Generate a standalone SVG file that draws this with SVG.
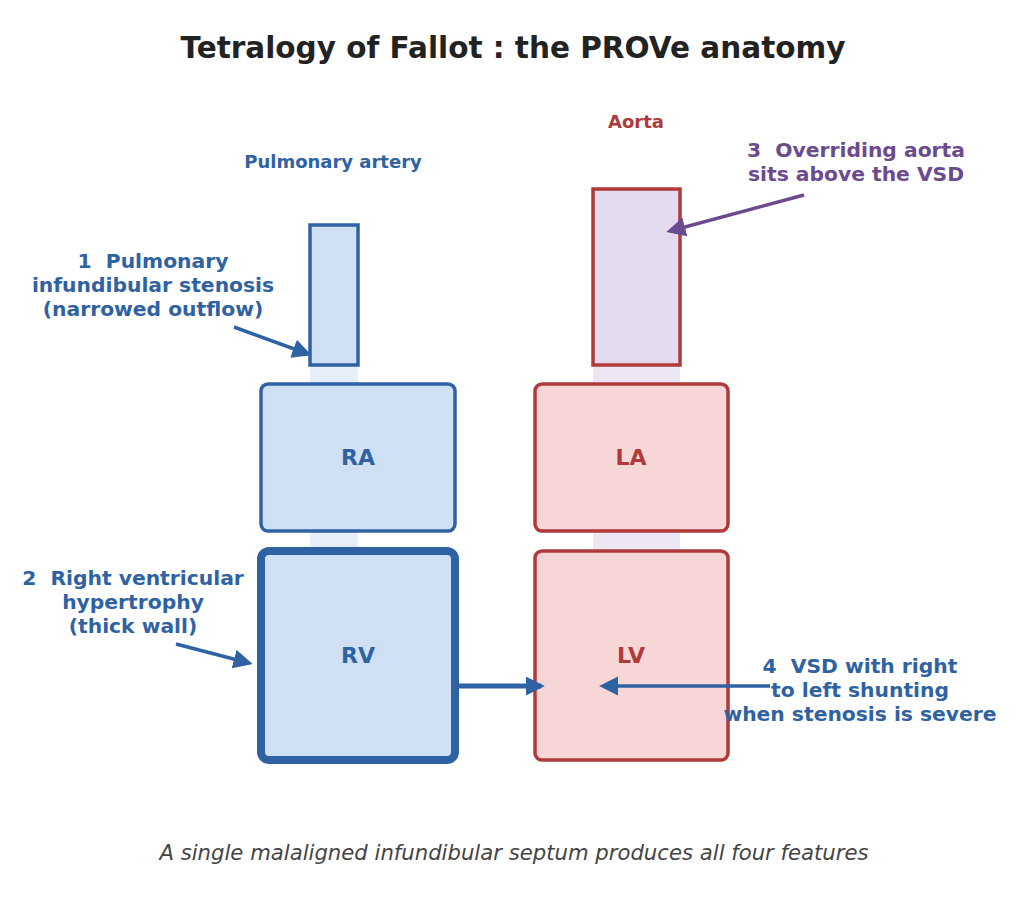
<svg xmlns="http://www.w3.org/2000/svg" width="1024" height="924" viewBox="0 0 1024 924">
<defs>
<style>
text{font-family:"DejaVu Sans","Liberation Sans",sans-serif;font-weight:bold;text-anchor:middle;white-space:pre}
.blue{fill:#2f62a3}
.red{fill:#b03a3a}
.purple{fill:#6b4a8f}
.ann{font-size:20.3px}
.lbl{font-size:22px}
.bnode{fill:#cfe0f4;stroke:#2f62a3;stroke-width:3.5}
.rnode{fill:#f6d6d6;stroke:#b03a3a;stroke-width:3.5}
</style>
<marker id="ab" viewBox="0 0 10 10" refX="8" refY="5" markerWidth="5.5" markerHeight="5.5" orient="auto" markerUnits="strokeWidth"><path d="M0,0 L10,5 L0,10 Z" fill="#2f62a3"/></marker>
<marker id="ab2" viewBox="0 0 10 10" refX="8" refY="5" markerWidth="3.8" markerHeight="3.8" orient="auto" markerUnits="strokeWidth"><path d="M0,0 L10,5 L0,10 Z" fill="#2f62a3"/></marker>
<marker id="ap" viewBox="0 0 10 10" refX="8" refY="5" markerWidth="5.5" markerHeight="5.5" orient="auto" markerUnits="strokeWidth"><path d="M0,0 L10,5 L0,10 Z" fill="#6b4a8f"/></marker>
</defs>
<rect width="1024" height="924" fill="#ffffff"/>
<text x="513" y="58" style="font-size:29.5px" fill="#222222">Tetralogy of Fallot : the PROVe anatomy</text>
<g id="columns">
<rect x="310" y="365" width="48" height="187" fill="#e6eef9"/>
<rect x="593" y="365" width="87" height="187" fill="#ede6f5"/>
</g>
<g id="pulmonary-artery">
<rect x="310" y="225" width="48" height="140" class="bnode"/>
<text x="333" y="168" style="font-size:18px" class="blue">Pulmonary artery</text>
</g>
<g id="aorta">
<rect x="593" y="189" width="87" height="176" fill="#e4daf0" stroke="#b03a3a" stroke-width="3.5"/>
<text x="636" y="128" style="font-size:18px" class="red">Aorta</text>
</g>
<g id="RA">
<rect x="261" y="384" width="194" height="147" rx="7" class="bnode"/>
<text x="358" y="465" class="lbl blue">RA</text>
</g>
<g id="LA">
<rect x="535" y="384" width="193" height="147" rx="7" class="rnode"/>
<text x="631" y="465" class="lbl red">LA</text>
</g>
<g id="RV">
<rect x="261" y="551" width="194" height="209" rx="8" class="bnode" style="stroke-width:8"/>
<text x="358" y="663" class="lbl blue">RV</text>
</g>
<g id="LV">
<rect x="535" y="551" width="193" height="209" rx="7" class="rnode"/>
<text x="631" y="663" class="lbl red">LV</text>
</g>
<g id="connectors">
<line x1="455" y1="686" x2="541" y2="686" stroke="#2f62a3" stroke-width="5" marker-end="url(#ab2)"/>
<line x1="770" y1="686" x2="603" y2="686" stroke="#2f62a3" stroke-width="3.5" marker-end="url(#ab)"/>
<line x1="234" y1="327" x2="308" y2="354" stroke="#2f62a3" stroke-width="3.5" marker-end="url(#ab)"/>
<line x1="176" y1="644" x2="249" y2="663" stroke="#2f62a3" stroke-width="3.5" marker-end="url(#ab)"/>
<line x1="804" y1="195" x2="670" y2="231" stroke="#6b4a8f" stroke-width="3.5" marker-end="url(#ap)"/>
</g>
<g id="annotation-1">
<text x="153" y="268" class="ann blue">1  Pulmonary</text>
<text x="153" y="292" class="ann blue">infundibular stenosis</text>
<text x="153" y="316" class="ann blue">(narrowed outflow)</text>
</g>
<g id="annotation-2">
<text x="133" y="585" class="ann blue">2  Right ventricular</text>
<text x="133" y="609" class="ann blue">hypertrophy</text>
<text x="133" y="633" class="ann blue">(thick wall)</text>
</g>
<g id="annotation-3">
<text x="856" y="157" class="ann purple">3  Overriding aorta</text>
<text x="856" y="181" class="ann purple">sits above the VSD</text>
</g>
<g id="annotation-4">
<text x="860" y="673" class="ann blue">4  VSD with right</text>
<text x="860" y="697" class="ann blue">to left shunting</text>
<text x="860" y="721" class="ann blue">when stenosis is severe</text>
</g>
<text x="514" y="860" style="font-size:21.2px;font-weight:normal;font-style:italic" fill="#444444">A single malaligned infundibular septum produces all four features</text>
</svg>
